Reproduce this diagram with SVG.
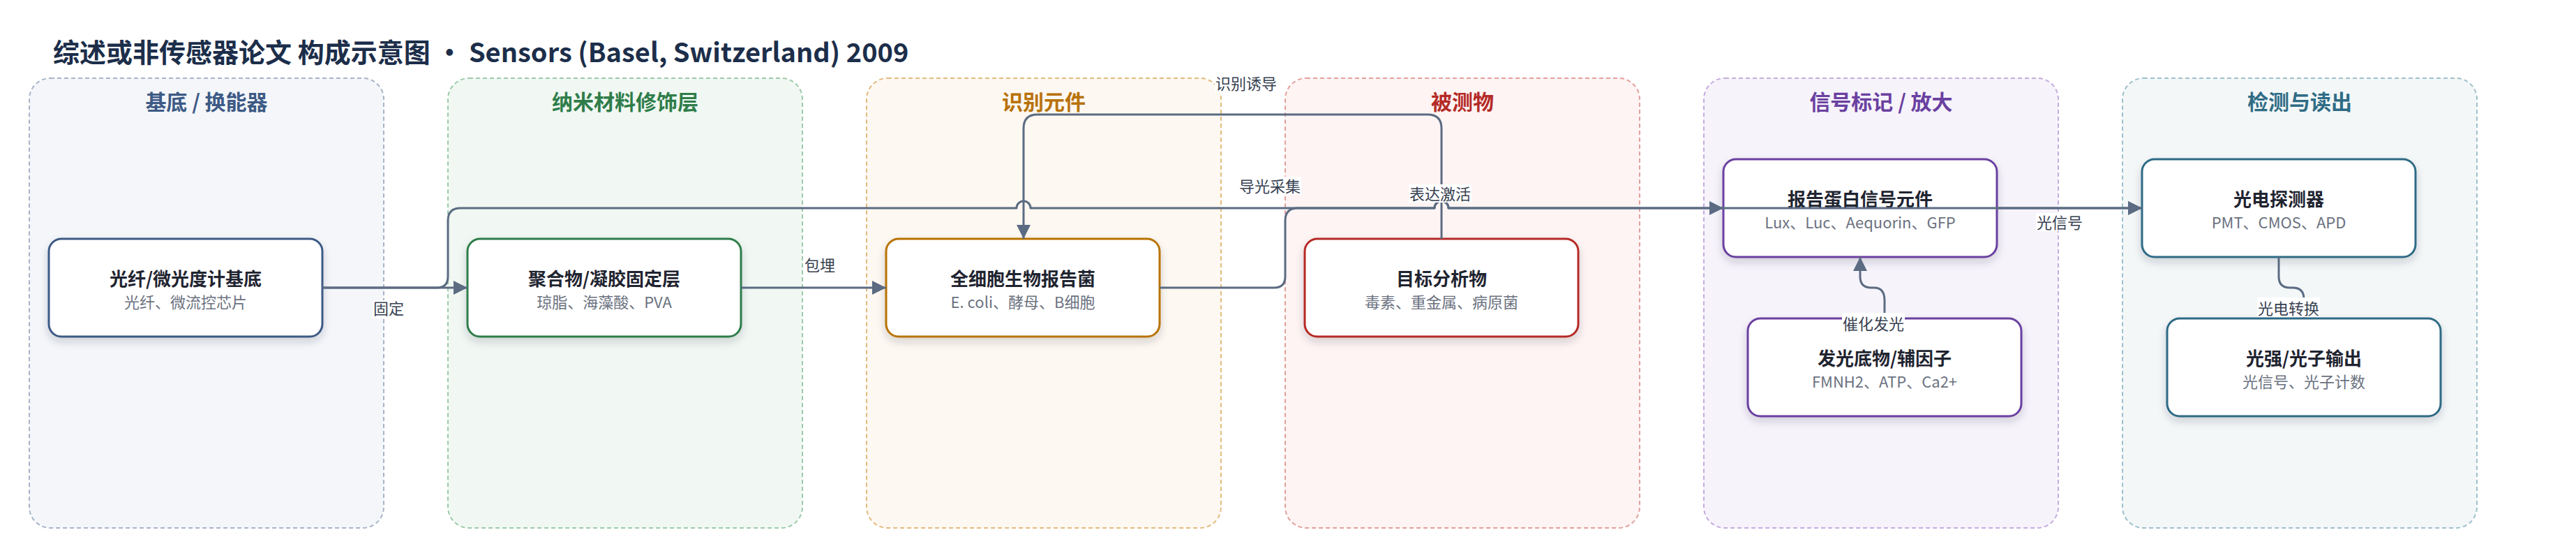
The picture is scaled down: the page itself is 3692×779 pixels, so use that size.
<svg xmlns="http://www.w3.org/2000/svg" width="3692" height="779" viewBox="0 0 3692 779">
<style>
text{font-family:'Noto Sans CJK SC','Noto Sans',sans-serif}
.title{font-size:38px;font-weight:700;fill:#1c2e4a}
.lane{stroke-width:2;stroke-dasharray:6 4}
.lt{font-size:30px;font-weight:700;text-anchor:middle}
.node{fill:#fff;stroke-width:3;filter:url(#sh)}
.nt{font-size:26px;font-weight:700;fill:#1f2430;text-anchor:middle}
.ns{font-size:22px;fill:#6b7280;text-anchor:middle}
.edge{fill:none;stroke:#5b6b82;stroke-width:3;stroke-linejoin:round}
.lbg{fill:#fff}
.el{font-size:22px;fill:#374151;text-anchor:middle}
</style>
<defs>
<filter id="sh" x="-10%" y="-10%" width="120%" height="140%">
<feDropShadow dx="0" dy="6" stdDeviation="6" flood-color="#1f2937" flood-opacity="0.18"/>
</filter>
<marker id="ar" markerUnits="userSpaceOnUse" markerWidth="20" markerHeight="20" refX="20" refY="10" orient="auto">
<path d="M0,0 L20,10 L0,20 Z" fill="#5b6b82"/>
</marker>
</defs>
<rect width="3692" height="779" fill="#fff"/>
<text class="title" x="76" y="89">综述或非传感器论文 构成示意图 · Sensors (Basel, Switzerland) 2009</text>

<g id="lane-substrate">
<rect class="lane" x="42" y="112" width="508" height="644" rx="30" fill="#f4f6fa" stroke="#a8b4c8"/>
<text class="lt" x="296" y="157" fill="#3d5a85">基底 / 换能器</text>
</g>
<g id="lane-nano">
<rect class="lane" x="642" y="112" width="508" height="644" rx="30" fill="#f1f8f3" stroke="#9ccaa9"/>
<text class="lt" x="896" y="157" fill="#2f7d4a">纳米材料修饰层</text>
</g>
<g id="lane-recog">
<rect class="lane" x="1242" y="112" width="508" height="644" rx="30" fill="#fdf8f1" stroke="#e3bb7f"/>
<text class="lt" x="1496" y="157" fill="#b8720a">识别元件</text>
</g>
<g id="lane-analyte">
<rect class="lane" x="1842" y="112" width="508" height="644" rx="30" fill="#fdf4f3" stroke="#e3a09c"/>
<text class="lt" x="2096" y="157" fill="#b42b27">被测物</text>
</g>
<g id="lane-signal">
<rect class="lane" x="2442" y="112" width="508" height="644" rx="30" fill="#f6f3fb" stroke="#c5acdf"/>
<text class="lt" x="2696" y="157" fill="#6a40a0">信号标记 / 放大</text>
</g>
<g id="lane-detect">
<rect class="lane" x="3042" y="112" width="508" height="644" rx="30" fill="#f3f7f8" stroke="#9fc0cc"/>
<text class="lt" x="3296" y="157" fill="#2f6c85">检测与读出</text>
</g>

<g id="n1">
<rect class="node" x="70" y="342" width="392" height="140" rx="18" stroke="#3d5a85"/>
<text class="nt" x="266" y="409">光纤/微光度计基底</text>
<text class="ns" x="266" y="441">光纤、微流控芯片</text>
</g>
<g id="n2">
<rect class="node" x="670" y="342" width="392" height="140" rx="18" stroke="#2e7d4a"/>
<text class="nt" x="866" y="409">聚合物/凝胶固定层</text>
<text class="ns" x="866" y="441">琼脂、海藻酸、PVA</text>
</g>
<g id="n3">
<rect class="node" x="1270" y="342" width="392" height="140" rx="18" stroke="#b87300"/>
<text class="nt" x="1466" y="409">全细胞生物报告菌</text>
<text class="ns" x="1466" y="441">E. coli、酵母、B细胞</text>
</g>
<g id="n4">
<rect class="node" x="1870" y="342" width="392" height="140" rx="18" stroke="#b52a25"/>
<text class="nt" x="2066" y="409">目标分析物</text>
<text class="ns" x="2066" y="441">毒素、重金属、病原菌</text>
</g>
<g id="n5">
<rect class="node" x="2470" y="228" width="392" height="140" rx="18" stroke="#6b3fa0"/>
<text class="nt" x="2666" y="295">报告蛋白信号元件</text>
<text class="ns" x="2666" y="327">Lux、Luc、Aequorin、GFP</text>
</g>
<g id="n6">
<rect class="node" x="2505" y="456" width="392" height="140" rx="18" stroke="#6b3fa0"/>
<text class="nt" x="2701" y="523">发光底物/辅因子</text>
<text class="ns" x="2701" y="555">FMNH2、ATP、Ca2+</text>
</g>
<g id="n7">
<rect class="node" x="3070" y="228" width="392" height="140" rx="18" stroke="#2e6b85"/>
<text class="nt" x="3266" y="295">光电探测器</text>
<text class="ns" x="3266" y="327">PMT、CMOS、APD</text>
</g>
<g id="n8">
<rect class="node" x="3106" y="456" width="392" height="140" rx="18" stroke="#2e6b85"/>
<text class="nt" x="3302" y="523">光强/光子输出</text>
<text class="ns" x="3302" y="555">光信号、光子计数</text>
</g>

<g id="connectors">
<path class="edge" marker-end="url(#ar)" d="M462,412 H670"/>
<path class="edge" marker-end="url(#ar)" d="M462,412 H626 Q642,412 642,396 V316 Q642,298 660,298 H1457 A10,10 0 0 1 1477,298 H2056 A10,10 0 0 1 2076,298 H3070"/>
<path class="edge" marker-end="url(#ar)" d="M1062,412 H1270"/>
<path class="edge" marker-end="url(#ar)" d="M2066,342 V184 Q2066,164 2046,164 H1487 Q1467,164 1467,184 V342"/>
<path class="edge" marker-end="url(#ar)" d="M1662,412 H1826 Q1842,412 1842,396 V316 Q1842,298 1860,298 H2056 A10,10 0 0 1 2076,298 H2470"/>
<path class="edge" marker-end="url(#ar)" d="M2862,298 H3070"/>
<path class="edge" marker-end="url(#ar)" d="M2701,456 V430 Q2701,412 2686,412 H2682 Q2666,412 2666,396 V368"/>
<path class="edge" marker-end="url(#ar)" d="M3266,368 V396 Q3266,412 3282,412 H3286 Q3302,412 3302,428 V456"/>

<rect class="lbg" x="534" y="430" width="46" height="26"/>
<text class="el" x="557" y="450">固定</text>
<rect class="lbg" x="1152" y="367" width="46" height="26"/>
<text class="el" x="1175" y="388">包埋</text>
<rect class="lbg" x="1741" y="107" width="90" height="26"/>
<text class="el" x="1786" y="128">识别诱导</text>
<rect class="lbg" x="1775" y="253" width="90" height="26"/>
<text class="el" x="1820" y="275">导光采集</text>
<rect class="lbg" x="2019" y="264" width="90" height="26"/>
<text class="el" x="2064" y="286">表达激活</text>
<rect class="lbg" x="2918" y="305" width="68" height="26"/>
<text class="el" x="2952" y="327">光信号</text>
<rect class="lbg" x="2640" y="448" width="90" height="28"/>
<text class="el" x="2685" y="472">催化发光</text>
<rect class="lbg" x="3235" y="426" width="90" height="28"/>
<text class="el" x="3280" y="450">光电转换</text>
</g>
</svg>
